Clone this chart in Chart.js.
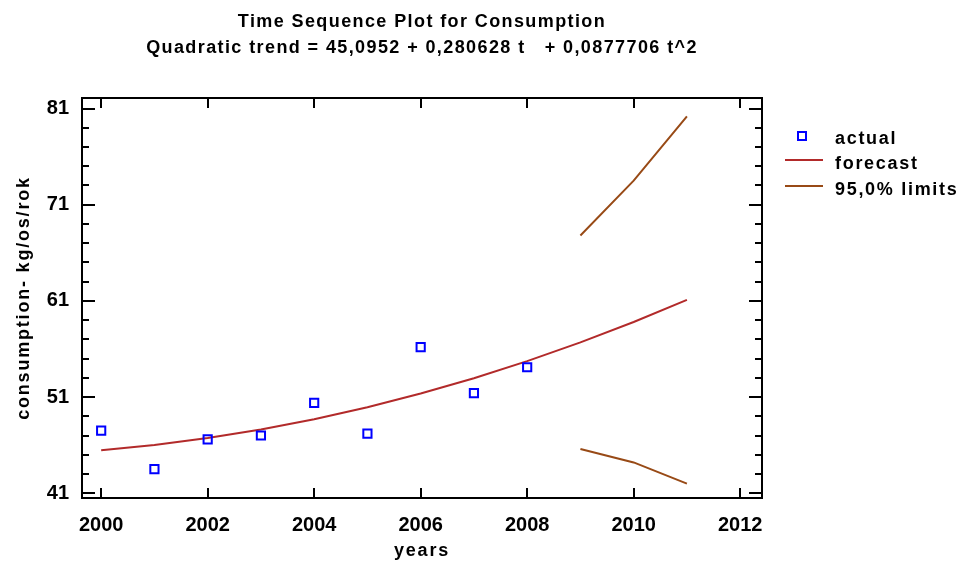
<!DOCTYPE html>
<html>
<head>
<meta charset="utf-8">
<script src="https://cdn.jsdelivr.net/npm/chart.js@4/dist/chart.umd.min.js"></script>
<style>
html,body{margin:0;padding:0;background:#fff;}
#wrap{width:961px;height:564px;position:relative;}
</style>
</head>
<body>
<div id="wrap"><canvas id="c" width="961" height="564"></canvas></div>
<script>
// ---- data ----
const actualYears = [2000, 2001, 2002, 2003, 2004, 2005, 2006, 2007, 2008];
const actualValues = [47.5, 43.5, 46.6, 47.0, 50.4, 47.2, 56.2, 51.4, 54.1];
const forecastYears = [2000, 2001, 2002, 2003, 2004, 2005, 2006, 2007, 2008, 2009, 2010, 2011];
const forecastValues = [45.46, 46.01, 46.73, 47.62, 48.69, 49.94, 51.36, 52.96, 54.73, 56.68, 58.80, 61.10];
const limitYears = [2009, 2010, 2011];
const upperLimits = [67.8, 73.5, 80.2];
const lowerLimits = [45.6, 44.2, 42.0];
const xTickValues = [2000, 2002, 2004, 2006, 2008, 2010, 2012];
const yTickValues = [41, 51, 61, 71, 81];
const yMinorStep = 2;
const titleLines = ['Time Sequence Plot for Consumption', 'Quadratic trend = 45,0952 + 0,280628 t   + 0,0877706 t^2'];
const legendLabels = ['actual', 'forecast', '95,0% limits'];
const xTitle = 'years';
const yTitle = 'consumption- kg/os/rok';

const COL_ACTUAL = '#0000ff';
const COL_FORECAST = '#b22a2a';
const COL_LIMIT = '#984a16';
const FONT = "'Liberation Sans', Arial, sans-serif";

const pts = (xs, ys) => xs.map((x, i) => ({x: x, y: ys[i]}));

const framePlugin = {
  id: 'frame',
  afterDatasetsDraw(chart) {
    const ctx = chart.ctx, a = chart.chartArea;
    const xs = chart.scales.x, ys = chart.scales.y;
    ctx.save();
    ctx.strokeStyle = '#000';
    ctx.lineWidth = 2;
    ctx.strokeRect(a.left, a.top, a.right - a.left, a.bottom - a.top);
    ctx.beginPath();
    xTickValues.forEach(v => {
      const px = Math.round(xs.getPixelForValue(v));
      ctx.moveTo(px, a.bottom); ctx.lineTo(px, a.bottom - 10);
      ctx.moveTo(px, a.top); ctx.lineTo(px, a.top + 10);
    });
    for (let v = yTickValues[0]; v <= yTickValues[yTickValues.length - 1] + 0.001; v += yMinorStep) {
      const py = Math.round(ys.getPixelForValue(v));
      const major = yTickValues.indexOf(v) >= 0;
      const len = major ? 13 : 7;
      ctx.moveTo(a.left, py); ctx.lineTo(a.left + len, py);
      ctx.moveTo(a.right, py); ctx.lineTo(a.right - len, py);
    }
    ctx.stroke();
    ctx.restore();
  },
  afterDraw(chart) {
    const ctx = chart.ctx, a = chart.chartArea;
    ctx.save();
    ctx.fillStyle = '#000';
    ctx.textBaseline = 'middle';
    const cx = (a.left + a.right) / 2;
    // chart title
    ctx.font = 'bold 18px ' + FONT;
    ctx.letterSpacing = '1.4px';
    ctx.textAlign = 'center';
    ctx.fillText(titleLines[0], cx, 22);
    ctx.fillText(titleLines[1], cx, 48);
    // axis titles
    ctx.letterSpacing = '1.8px';
    ctx.fillText(xTitle, cx, 551);
    ctx.save();
    ctx.translate(24, (a.top + a.bottom) / 2);
    ctx.rotate(-Math.PI / 2);
    ctx.fillText(yTitle, 0, 0);
    ctx.restore();
    // legend
    ctx.textAlign = 'left';
    ctx.letterSpacing = '1.7px';
    ctx.fillText(legendLabels[0], 835, 139);
    ctx.fillText(legendLabels[1], 835, 164);
    ctx.fillText(legendLabels[2], 835, 190);
    ctx.strokeStyle = COL_ACTUAL; ctx.lineWidth = 2;
    ctx.strokeRect(798, 132, 8, 8);
    ctx.strokeStyle = COL_FORECAST;
    ctx.beginPath(); ctx.moveTo(785, 160); ctx.lineTo(823, 160); ctx.stroke();
    ctx.strokeStyle = COL_LIMIT;
    ctx.beginPath(); ctx.moveTo(785, 186); ctx.lineTo(823, 186); ctx.stroke();
    ctx.restore();
  }
};

new Chart(document.getElementById('c'), {
  type: 'scatter',
  data: {
    datasets: [
      { label: legendLabels[0], data: pts(actualYears, actualValues), showLine: false,
        pointStyle: 'rect', pointRadius: 5.8, pointBorderWidth: 2, pointBorderColor: COL_ACTUAL,
        pointBackgroundColor: 'rgba(0,0,0,0)', borderColor: COL_ACTUAL, order: 0 },
      { label: legendLabels[1], data: pts(forecastYears, forecastValues), showLine: true,
        borderColor: COL_FORECAST, borderWidth: 2, pointRadius: 0, tension: 0, order: 1 },
      { label: legendLabels[2], data: pts(limitYears, upperLimits), showLine: true,
        borderColor: COL_LIMIT, borderWidth: 2, pointRadius: 0, tension: 0, order: 2 },
      { label: legendLabels[2] + ' low', data: pts(limitYears, lowerLimits), showLine: true,
        borderColor: COL_LIMIT, borderWidth: 2, pointRadius: 0, tension: 0, order: 2 }
    ]
  },
  options: {
    responsive: false,
    animation: false,
    layout: { padding: { top: 98, right: 199, left: 0, bottom: 0 } },
    plugins: { legend: { display: false }, title: { display: false }, tooltip: { enabled: false } },
    scales: {
      x: {
        type: 'linear', min: 1999.64, max: 2012.41,
        grid: { display: false, drawTicks: false },
        border: { display: false },
        afterBuildTicks: s => { s.ticks = xTickValues.map(v => ({ value: v })); },
        afterFit: s => { s.height = 66; },
        ticks: { color: '#000', font: { family: FONT, size: 20, weight: 'bold' }, padding: 15, maxRotation: 0,
                 callback: v => String(v) },
        title: { display: false }
      },
      y: {
        type: 'linear', min: 40.5, max: 82.1,
        grid: { display: false, drawTicks: false },
        border: { display: false },
        afterBuildTicks: s => { s.ticks = yTickValues.map(v => ({ value: v })); },
        afterFit: s => { s.width = 82; },
        ticks: { color: '#000', font: { family: FONT, size: 20, weight: 'bold' }, padding: 13,
                 callback: v => String(v) },
        title: { display: false }
      }
    }
  },
  plugins: [framePlugin]
});
</script>
</body>
</html>
